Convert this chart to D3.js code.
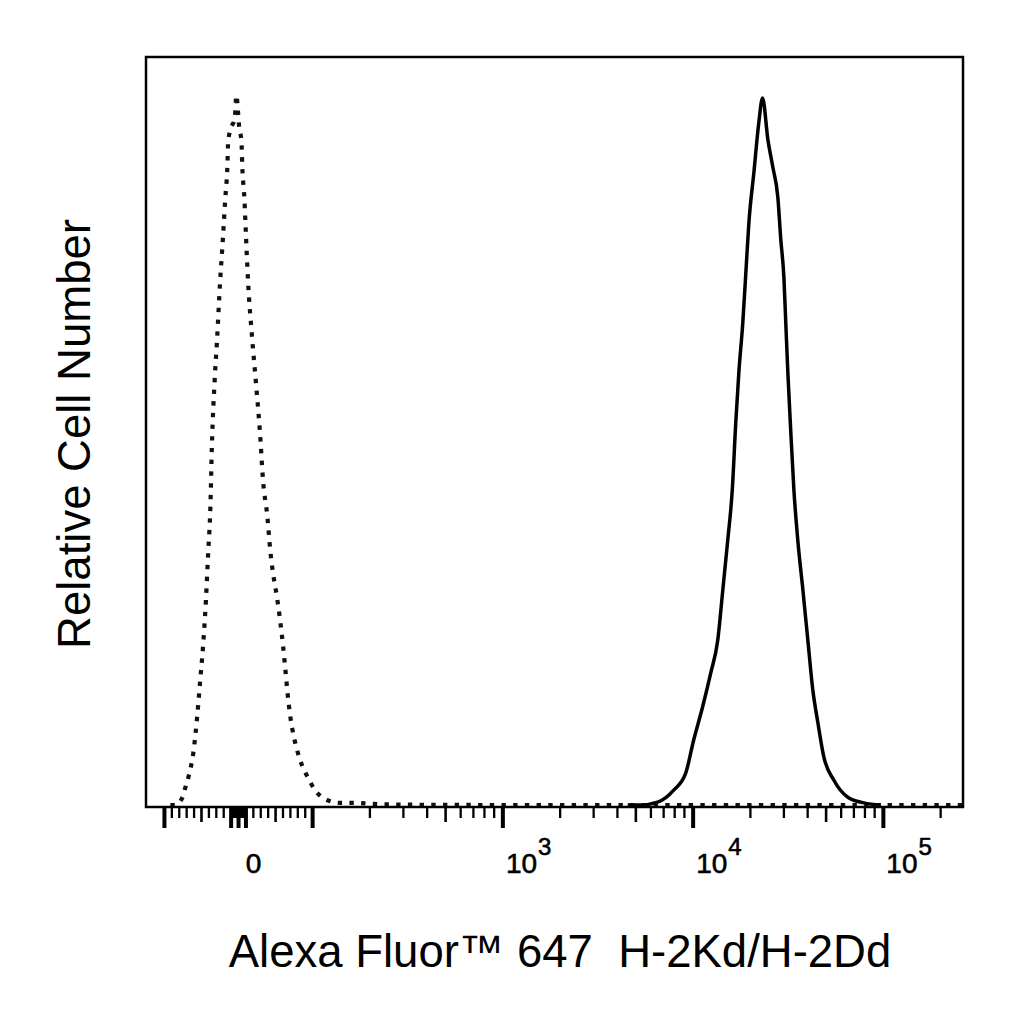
<!DOCTYPE html>
<html><head><meta charset="utf-8">
<script src="https://cdn.jsdelivr.net/npm/d3@7"></script>
<style>
html,body{margin:0;padding:0;background:#fff;}
svg{display:block;}
text{font-family:"Liberation Sans",Arial,Helvetica,sans-serif;fill:#000;}
</style></head>
<body>
<svg id="chart" width="1024" height="1024"></svg>
<script>
// ---- data ----
const isotypeX = [-92,-86,-76,-72,-67,-61,-56,-52,-48,-44,-41,-38,-36,-32,-29,-25,-21,-18,-15,-14,-11,-5,-3,1,4,5,8,10,13,18,24,29,33,39,43,47,52,56,60,63,66,70,75,83,93,103,119,140,164,208,289,1000,10000,100000,262144];
const isotypeY = [0,0,1.0,2.4,4.2,7.4,12.3,17.3,22.3,29.0,35.6,42.1,50.6,60.5,65.8,73.8,80.3,85.6,90.5,93.8,95.5,97.2,100.4,95.8,93.8,90.5,85.6,80.6,73.8,66.5,59.1,52.6,46.0,40.7,35.8,32.5,29.3,26.2,22.6,19.4,16.0,12.4,9.5,6.4,4.0,2.1,0.7,0.3,0.3,0.15,0.05,0,0,0,0];
const stainedX = [4529,5297,6516,7907,9141,10069,11220,12380,13470,14320,15210,16066,16750,17380,18240,18920,19630,20850,22140,23170,24720,26250,27870,28910,29990,30690,31480,32440,33850,35480,37760,40090,42560,45290,48640,54950,65010,79070,97060];
const stainedY = [0,0,0.4,2.1,4.5,9.2,13.9,18.7,23.3,30.4,37.5,44.6,54.0,61.1,68.2,75.2,82.3,89.4,96.5,100,94.1,90.2,86.0,79.9,74.7,68.2,61.1,54.0,44.6,37.5,30.4,23.3,16.3,11.6,6.8,3.5,1.1,0.3,0];

const majorTicks = [-100,-10,0,10,100,1000,10000,100000];
const mediumTicks = [-50,50,500,5000,50000];
const minorTicks = [-90,-80,-70,-60,-40,-30,-20,-9,-8,-7,-6,-5,-4,-3,-2,-1,1,2,3,4,5,6,7,8,9,20,30,40,60,70,80,90,
  200,300,400,600,700,800,900,2000,3000,4000,6000,7000,8000,9000,20000,30000,40000,60000,70000,80000,90000,200000];
const labelValues = [0,1000,10000,100000];
const labelExps = ["","3","4","5"];
const xTitle = "Alexa Fluor\u2122 647  H-2Kd/H-2Dd";
const yTitle = "Relative Cell Number";

// ---- layout ----
const L = 146, R = 963, T0 = 57, B = 807;

// biexponential-like display transform (linear near zero, log beyond)
function biex(v){
  const a = Math.abs(v);
  const t = a <= 100 ? a * 0.74 : 74 + 190 * Math.log10(a / 100);
  return v < 0 ? -t : t;
}
const xLin = d3.scaleLinear().domain([biex(-125), biex(262144)]).range([L, R]);
const x = v => xLin(biex(v));
const y = d3.scaleLinear().domain([0, 100]).range([805, 98]);

const svg = d3.select("#chart");

// curves
const line = d3.line().x(d => x(d[0])).y(d => y(d[1])).curve(d3.curveMonotoneX);
svg.append("path")
  .attr("d", line(d3.zip(isotypeX, isotypeY)))
  .attr("fill", "none").attr("stroke", "#111").attr("stroke-width", 4.2)
  .attr("stroke-dasharray", "4.4,7.3");
svg.append("path")
  .attr("d", line(d3.zip(stainedX, stainedY)))
  .attr("fill", "none").attr("stroke", "#000").attr("stroke-width", 3.5)
  .attr("stroke-linejoin", "round");

// frame
svg.append("rect").attr("x", L).attr("y", T0).attr("width", R - L).attr("height", B - T0)
  .attr("fill", "none").attr("stroke", "#000").attr("stroke-width", 2.5);

// ticks
const tg = svg.append("g");
function drawTicks(vals, len, w){
  tg.selectAll(null).data(vals).enter().append("line")
    .attr("x1", d => x(d)).attr("x2", d => x(d))
    .attr("y1", B).attr("y2", B + len)
    .attr("stroke", "#000").attr("stroke-width", w);
}
drawTicks(minorTicks, 11, 2.3);
drawTicks(mediumTicks, 15, 2.6);
drawTicks(majorTicks, 21, 4);

// tick labels
const lg = svg.append("g").attr("stroke", "#000").attr("stroke-width", 0.6);
labelValues.forEach((v, i) => {
  if (labelExps[i] === "") {
    lg.append("text").attr("x", x(v) + 15).attr("y", 873).attr("text-anchor", "middle")
      .attr("font-size", 28).text("0");
  } else {
    const t = lg.append("text").attr("x", x(v) + 3).attr("y", 873).attr("font-size", 28);
    t.append("tspan").text("10");
    t.append("tspan").attr("dx", 1).attr("dy", -18).attr("font-size", 24).text(labelExps[i]);
  }
});

// titles
svg.append("text").attr("x", 560).attr("y", 967).attr("text-anchor", "middle")
  .attr("font-size", 45.5).style("white-space", "pre").text(xTitle);
svg.append("text").attr("transform", "translate(90,434) rotate(-90)")
  .attr("text-anchor", "middle").attr("font-size", 45.5).text(yTitle);
</script>
</body></html>
